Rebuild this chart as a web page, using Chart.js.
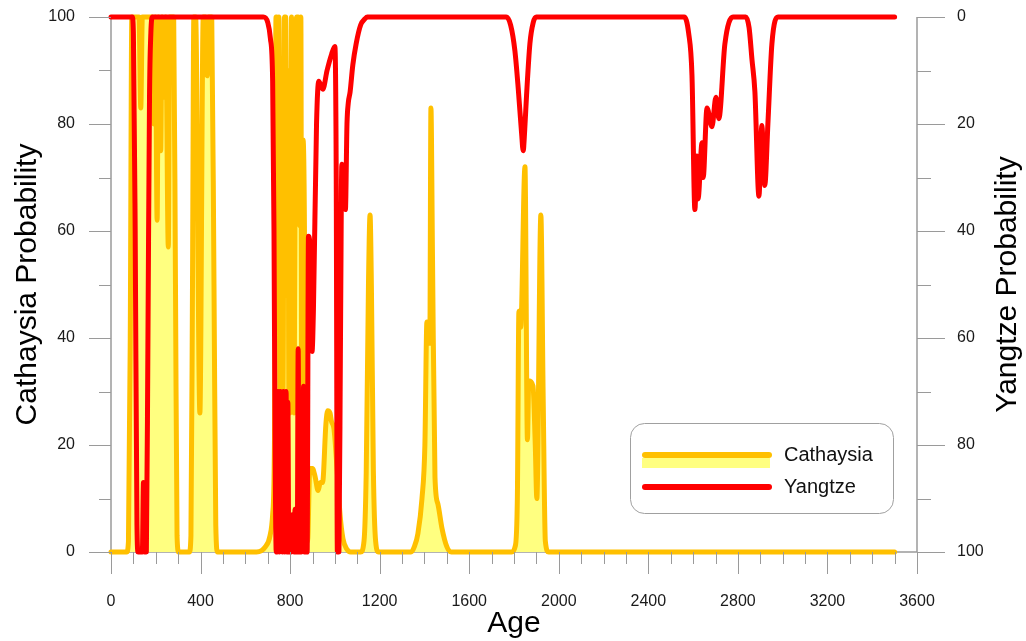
<!DOCTYPE html>
<html>
<head>
<meta charset="utf-8">
<script src="https://cdn.jsdelivr.net/npm/chart.js@4.4.1/dist/chart.umd.min.js"></script>
<style>
  html, body { margin: 0; padding: 0; background: #ffffff; }
  canvas { display: block; }
</style>
</head>
<body>
<canvas id="chart" width="1026" height="641"></canvas>
<script>
// Cathaysia provenance probability by detrital zircon age (Ma)
const cathaysiaAge = [
  0, 70, 78, 86, 93, 125, 133, 140, 185, 192, 198, 206, 212, 222, 228, 238, 244, 256, 262, 280, 288, 295, 302,
  350, 357, 364, 370, 378, 397, 412, 422, 430, 436, 450, 460, 468, 476,
  650, 690, 710, 722, 730, 737, 741, 746, 750, 756, 762, 768, 775, 780, 785, 790, 795, 800, 806, 812, 818, 824,
  830, 836, 842, 848, 852, 858, 864, 870, 878, 888, 900, 912, 925, 935, 945, 960, 968, 978, 985, 996, 1009,
  1023, 1036, 1054, 1070,
  1115, 1130, 1140, 1150, 1157, 1163, 1172, 1182, 1195,
  1340, 1355, 1371, 1389, 1402, 1411, 1424, 1429, 1436, 1447, 1460, 1478, 1500, 1520,
  1790, 1805, 1815, 1822, 1830, 1849, 1860, 1866, 1885, 1895, 1902, 1920, 1930, 1940, 1955,
  3500
];
const cathaysiaProb = [
  0, 0, 2, 40, 100, 100, 83, 100, 100, 80, 100, 62, 100, 75, 100, 85, 100, 57, 100, 100, 50, 3, 0,
  0, 3, 50, 100, 100, 26, 100, 100, 89, 100, 100, 50, 5, 0,
  0, 1, 3, 7, 20, 100, 100, 60, 100, 30, 50, 30, 100, 100, 48, 90, 26, 26, 100, 70, 26, 90,
  100, 100, 61, 100, 26, 77, 61, 5, 2, 15.6, 15.6, 14, 11.5, 13, 13, 24, 26.4, 26, 24.4, 23, 16,
  7, 2.5, 0.5, 0,
  0, 2, 15, 50, 63, 50, 15, 2, 0,
  0, 1, 3.5, 10, 20, 43, 39, 83, 55, 14, 9, 4.5, 1, 0,
  0, 1, 10, 45, 42, 72, 21, 32, 31, 20, 10, 63, 30, 2, 0,
  0
];

// Yangtze provenance probability (plotted on the reversed right axis)
const yangtzeAge = [
  0, 95, 100, 108, 116, 121, 140, 145, 150, 158, 165, 172, 178, 185,
  680, 700, 712, 722, 728, 733, 738, 742, 746, 752, 756, 762, 766, 770, 776, 782, 786, 790, 794,
  805, 812, 818, 822, 826, 832, 836, 840, 850, 856, 860, 864, 876, 882, 890, 898, 904, 918, 928,
  946, 965, 985, 1000, 1006, 1011, 1018, 1025, 1031, 1040, 1047, 1054, 1060, 1068, 1080, 1095, 1115,
  1135, 1145,
  1765, 1785, 1804, 1819, 1834, 1841, 1848, 1856, 1871, 1886, 1900,
  2560, 2580, 2595, 2608, 2617, 2622, 2640, 2645, 2662, 2684, 2702, 2715, 2742, 2778,
  2835, 2850, 2863, 2876, 2894, 2907, 2920, 2934, 2952, 2979,
  3500
];
const yangtzeProb = [
  0, 0, 3, 40, 95, 100, 100, 87, 100, 100, 60, 15, 3, 0,
  0, 1, 4, 12, 40, 80, 100, 100, 70, 100, 70, 71, 100, 70, 100, 70, 100, 72, 100,
  100, 93, 100, 92, 100, 100, 62, 100, 100, 90, 69, 100, 100, 41, 44, 62.5, 55, 20, 12,
  13.5, 10, 7, 5.5, 30, 100, 100, 60, 27.5, 30, 36, 20, 16, 14, 9, 5, 1.5,
  0.3, 0,
  0, 1.5, 6.3, 13.4, 21.8, 25, 21, 14.7, 5, 1, 0,
  0, 3, 11, 36, 26, 34, 23.5, 30, 17, 20.5, 15, 19, 5, 0,
  0, 2, 8, 14, 33.5, 20.3, 31.5, 20, 5, 0,
  0
];

const seriesNames = ['Cathaysia', 'Yangtze'];
const ageTicks = [0, 400, 800, 1200, 1600, 2000, 2400, 2800, 3200, 3600];
const probTicks = [0, 20, 40, 60, 80, 100];
const axisTitles = { x: 'Age', left: 'Cathaysia Probability', right: 'Yangtze Probability' };

const FONT = '"Liberation Sans", Arial, sans-serif';
const ORANGE = '#FFC000';
const YELLOW = '#FFFF80';
const RED = '#FF0000';
const AXIS_GREY = '#9a9a9a';
const TEXT = '#1a1a1a';

const toPoints = (xs, ys) => xs.map((x, i) => ({ x: x, y: ys[i] }));
const plainLabel = (v) => String(v);

// fixed axis box sizes so the plot area sits where it should
const fixBox = (w, h) => (s) => {
  if (w !== null) s.width = w;
  if (h !== null) s.height = h;
  s.paddingTop = 0; s.paddingBottom = 0; s.paddingLeft = 0; s.paddingRight = 0;
};

// Axis lines, tick marks (major + minor), titles and the boxed legend
const decorations = {
  id: 'decorations',
  beforeDatasetsDraw(chart) {
    const { ctx, chartArea: a } = chart;
    ctx.save();
    ctx.strokeStyle = AXIS_GREY;
    ctx.lineWidth = 1.5;
    ctx.beginPath();
    ctx.moveTo(a.left, a.top); ctx.lineTo(a.left, a.bottom);
    ctx.moveTo(a.left, a.bottom); ctx.lineTo(a.right, a.bottom);
    ctx.moveTo(a.right, a.top); ctx.lineTo(a.right, a.bottom);
    ctx.stroke();
    ctx.restore();
  },
  afterDraw(chart) {
    const { ctx, chartArea: a, scales } = chart;
    ctx.save();
    ctx.strokeStyle = AXIS_GREY;
    ctx.lineWidth = 1;
    ctx.beginPath();
    for (let v = 0; v <= 3600; v += 100) {
      const x = Math.round(scales.x.getPixelForValue(v)) + 0.5;
      const len = v % 400 === 0 ? 22 : 12;
      ctx.moveTo(x, a.bottom); ctx.lineTo(x, a.bottom + len);
    }
    for (let v = 0; v <= 100; v += 10) {
      const yl = Math.round(scales.y.getPixelForValue(v)) + 0.5;
      const lenL = v % 20 === 0 ? 22 : 12;
      ctx.moveTo(a.left, yl); ctx.lineTo(a.left - lenL, yl);
      const yr = Math.round(scales.y2.getPixelForValue(v)) + 0.5;
      const lenR = v % 20 === 0 ? 28 : 14;
      ctx.moveTo(a.right, yr); ctx.lineTo(a.right + lenR, yr);
    }
    ctx.stroke();

    // axis titles
    ctx.fillStyle = '#000';
    ctx.font = '30px ' + FONT;
    ctx.textAlign = 'center';
    ctx.textBaseline = 'middle';
    ctx.fillText(axisTitles.x, (a.left + a.right) / 2, 624);
    const midY = (a.top + a.bottom) / 2;
    ctx.save();
    ctx.translate(28, midY);
    ctx.rotate(-Math.PI / 2);
    ctx.fillText(axisTitles.left, 0, 0);
    ctx.restore();
    ctx.save();
    ctx.translate(1008, midY);
    ctx.rotate(-Math.PI / 2);
    ctx.fillText(axisTitles.right, 0, 0);
    ctx.restore();

    // legend
    const bx = 630.5, by = 423.5, bw = 263, bh = 90, r = 14;
    ctx.beginPath();
    ctx.roundRect(bx, by, bw, bh, r);
    ctx.fillStyle = '#ffffff';
    ctx.fill();
    ctx.strokeStyle = '#a0a0a0';
    ctx.lineWidth = 1;
    ctx.stroke();

    ctx.fillStyle = YELLOW;
    ctx.fillRect(642, 458, 128, 10);
    ctx.lineCap = 'round';
    ctx.lineWidth = 6;
    ctx.strokeStyle = ORANGE;
    ctx.beginPath(); ctx.moveTo(645, 455); ctx.lineTo(769, 455); ctx.stroke();
    ctx.strokeStyle = RED;
    ctx.beginPath(); ctx.moveTo(645, 487); ctx.lineTo(769, 487); ctx.stroke();

    ctx.fillStyle = '#111';
    ctx.font = '20px ' + FONT;
    ctx.textAlign = 'left';
    ctx.textBaseline = 'middle';
    ctx.fillText(seriesNames[0], 784, 455);
    ctx.fillText(seriesNames[1], 784, 487);
    ctx.restore();
  }
};

new Chart(document.getElementById('chart'), {
  type: 'line',
  data: {
    datasets: [
      {
        label: seriesNames[0],
        data: toPoints(cathaysiaAge, cathaysiaProb),
        yAxisID: 'y',
        borderColor: ORANGE,
        backgroundColor: YELLOW,
        borderWidth: 5,
        fill: 'origin',
        pointRadius: 0,
        cubicInterpolationMode: 'monotone',
        borderCapStyle: 'round',
        borderJoinStyle: 'round',
        clip: false,
        order: 1
      },
      {
        label: seriesNames[1],
        data: toPoints(yangtzeAge, yangtzeProb),
        yAxisID: 'y2',
        borderColor: RED,
        borderWidth: 5,
        fill: false,
        pointRadius: 0,
        cubicInterpolationMode: 'monotone',
        borderCapStyle: 'round',
        borderJoinStyle: 'round',
        clip: false,
        order: 0
      }
    ]
  },
  options: {
    responsive: false,
    animation: false,
    devicePixelRatio: 1,
    layout: { padding: { top: 17, left: 0, right: 0, bottom: 0 } },
    plugins: { legend: { display: false }, tooltip: { enabled: false } },
    scales: {
      x: {
        type: 'linear',
        min: 0, max: 3600,
        afterBuildTicks: (s) => { s.ticks = ageTicks.map(v => ({ value: v })); },
        afterFit: fixBox(null, 89),
        grid: { display: false, drawTicks: false },
        border: { display: false },
        ticks: { padding: 40, color: TEXT, font: { family: FONT, size: 16 }, maxRotation: 0, callback: plainLabel }
      },
      y: {
        type: 'linear', position: 'left',
        min: 0, max: 100,
        afterBuildTicks: (s) => { s.ticks = probTicks.map(v => ({ value: v })); },
        afterFit: fixBox(111, null),
        grid: { display: false, drawTicks: false },
        border: { display: false },
        ticks: { padding: 36, color: TEXT, font: { family: FONT, size: 16 }, callback: plainLabel }
      },
      y2: {
        type: 'linear', position: 'right', reverse: true,
        min: 0, max: 100,
        afterBuildTicks: (s) => { s.ticks = probTicks.map(v => ({ value: v })); },
        afterFit: fixBox(109, null),
        grid: { display: false, drawTicks: false },
        border: { display: false },
        ticks: { padding: 40, color: TEXT, font: { family: FONT, size: 16 }, callback: plainLabel }
      }
    }
  },
  plugins: [decorations]
});
</script>
</body>
</html>
